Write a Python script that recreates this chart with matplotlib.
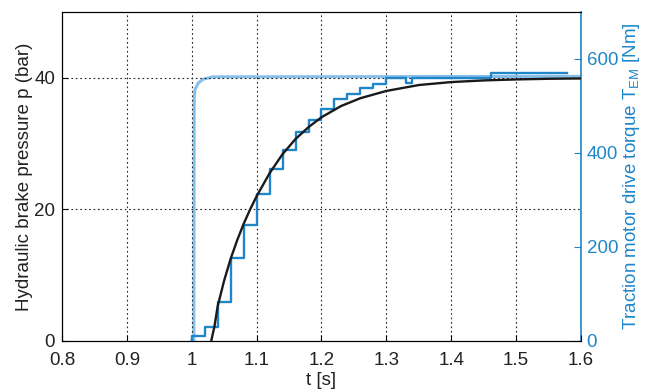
import numpy as np
import matplotlib.pyplot as plt

plt.rcParams['font.family'] = ['Liberation Sans', 'DejaVu Sans']

# hydraulic brake pressure, measured (stepped) [bar]
t_meas = [1.0, 1.0, 1.02, 1.04, 1.06, 1.08, 1.10, 1.12, 1.14, 1.16, 1.18, 1.20, 1.22,
          1.24, 1.26, 1.28, 1.30, 1.331, 1.339, 1.462, 1.578]
p_meas = [0.0, 0.8, 2.2, 5.9, 12.6, 17.6, 22.4, 26.1, 29.1, 31.7, 33.6, 35.3, 36.8,
          37.6, 38.4, 39.1, 39.9, 39.2, 39.9, 40.7, 40.7]

# hydraulic brake pressure, model [bar]
t_model = [1.030, 1.035, 1.04, 1.05, 1.06, 1.07, 1.08, 1.09, 1.10, 1.12, 1.14, 1.16, 1.18,
           1.20, 1.23, 1.26, 1.30, 1.35, 1.40, 1.45, 1.50, 1.55, 1.60]
p_model = [0.0, 2.2, 5.3, 9.2, 12.5, 15.3, 17.8, 20.0, 22.0, 25.5, 28.4, 30.7, 32.5,
           34.0, 35.7, 36.9, 38.0, 38.9, 39.35, 39.6, 39.75, 39.85, 39.9]

# traction motor torque [Nm]
t_torque = [1.0, 1.0032, 1.0038, 1.005, 1.010, 1.0175, 1.033, 1.6]
T_torque = [0, 0, 518, 535, 549, 557, 562, 563]

dark_blue = '#1f86c9'
light_blue = '#86bfea'
fs = 13.5

fig = plt.figure(figsize=(6.51, 3.89), dpi=100)
ax = fig.add_axes([0.0952, 0.1234, 0.7973, 0.8458])
ax2 = ax.twinx()
ax.set_zorder(ax2.get_zorder() + 1)
ax.patch.set_visible(False)

ax2.plot(t_torque, T_torque, color=light_blue, lw=2.2)
ax.step(t_meas, p_meas, where='post', color=dark_blue, lw=1.7)
ax.plot(t_model, p_model, color='#1a1a1a', lw=1.7)

ax.set_xlim(0.8, 1.6)
ax.set_ylim(0, 50)
ax2.set_ylim(0, 700)
ax.set_xticks(np.arange(0.8, 1.61, 0.1))
ax.set_xticklabels(['0.8', '0.9', '1', '1.1', '1.2', '1.3', '1.4', '1.5', '1.6'])
ax.set_yticks([0, 20, 40])
ax2.set_yticks([0, 200, 400, 600])

ax.grid(True, linestyle=(0, (1.5, 2.5)), color='#222222', lw=0.8)
ax.tick_params(direction='in', labelsize=fs, length=4, right=False, top=False,
               labelcolor='#222222')
ax.tick_params(axis='x', pad=8)
ax.tick_params(axis='y', pad=5)
ax2.tick_params(direction='in', labelsize=fs, length=5, colors=dark_blue, pad=4)
ax.spines['right'].set_visible(False)
ax2.spines['right'].set_color(dark_blue)
ax2.spines['right'].set_linewidth(1.2)

ax.set_xlabel('t [s]', fontsize=fs, labelpad=2, color='#222222')
ax.set_ylabel('Hydraulic brake pressure p (bar)', fontsize=fs, labelpad=1, color='#222222')
ax2.set_ylabel('Traction motor drive torque T$_{\\mathregular{EM}}$ [Nm]', fontsize=fs,
               color=dark_blue, labelpad=2)

fig.savefig('out.png', dpi=100)
